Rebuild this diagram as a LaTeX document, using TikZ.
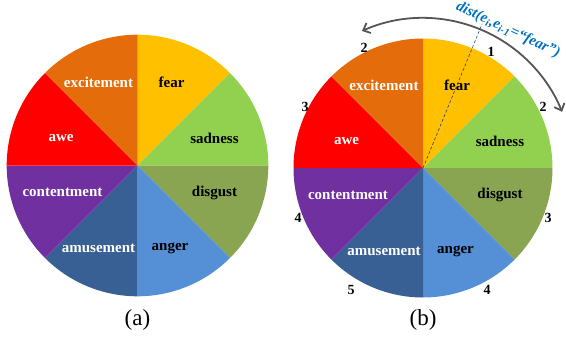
\documentclass[tikz,border=0pt]{standalone}
\usepackage{fontspec}
\setmainfont{Liberation Serif}
\usetikzlibrary{arrows.meta}
\definecolor{cfear}{HTML}{FFC000}
\definecolor{csad}{HTML}{92D050}
\definecolor{cdisg}{HTML}{8AA551}
\definecolor{canger}{HTML}{558FD6}
\definecolor{camuse}{HTML}{396094}
\definecolor{ccontent}{HTML}{7030A0}
\definecolor{cawe}{HTML}{FF0000}
\definecolor{cexcite}{HTML}{E46C0A}
\definecolor{carc}{HTML}{555555}
\definecolor{cdist}{HTML}{0070C0}
\definecolor{cdash}{HTML}{2F3F6F}
\begin{document}
\begin{tikzpicture}[x=1pt,y=1pt,
  lbl/.style={font=\fontsize{15}{18}\selectfont\bfseries, inner sep=0pt, text=black},
  wlbl/.style={lbl, text=white},
  num/.style={font=\fontsize{14}{16}\selectfont\bfseries, inner sep=0pt},
  captxt/.style={font=\fontsize{23}{26}\selectfont, inner sep=0pt},
  distarc/.style={draw=carc, line width=1.8pt, {Straight Barb[length=6pt,width=11pt]}-{Straight Barb[length=6pt,width=11pt]}},
  distline/.style={draw=cdash, line width=0.6pt, dash pattern=on 3pt off 2pt},
  disttxt/.style={font=\fontsize{15}{17}\selectfont\bfseries\itshape, text=cdist, inner sep=0pt}]
\useasboundingbox (0,0) rectangle (566,341);
\foreach \cx/\cy/\r/\n in {137.5/175.5/130.8/a, 423/173/129.5/b} {
  \foreach \a/\col in {45/cfear, 0/csad, -45/cdisg, -90/canger, -135/camuse, -180/ccontent, 135/cawe, 90/cexcite}
    \fill[\col] (\cx,\cy) -- ++(\a:\r) arc[start angle=\a, delta angle=45, radius=\r] -- cycle;
  \node[wlbl] (\n-excite)  at (\cx-39,\cy+83)   {excitement};
  \node[lbl]  (\n-fear)    at (\cx+34,\cy+83)   {fear};
  \node[wlbl] (\n-awe)     at (\cx-76.5,\cy+27) {awe};
  \node[lbl]  (\n-sad)     at (\cx+77,\cy+27)   {sadness};
  \node[wlbl] (\n-content) at (\cx-75,\cy-27)   {contentment};
  \node[lbl]  (\n-disg)    at (\cx+77,\cy-27)   {disgust};
  \node[wlbl] (\n-amuse)   at (\cx-39,\cy-83)   {amusement};
  \node[lbl]  (\n-anger)   at (\cx+32.5,\cy-83) {anger};
  \node[captxt] (\n-cap) at (\cx,21) {(\n)};
}
\coordinate (bc) at (423,173);
% distance numbers
\node[num] (n1) at (491,289) {1};
\node[num] (n2a) at (364,293) {2};
\node[num] (n2b) at (543,234) {2};
\node[num] (n3a) at (305,234) {3};
\node[num] (n3b) at (548,123) {3};
\node[num] (n4a) at (298,123) {4};
\node[num] (n4b) at (487,51) {4};
\node[num] (n5) at (351,51) {5};
% arc and dashed line
\draw[distarc] ([shift={(114:150)}]bc) arc[start angle=114, end angle=22, radius=150];
\draw[distline] (bc) -- ++(67.7:156) coordinate (dtop);
\node[disttxt, rotate=-25] (dist) at (508,311) {dist(e\textsubscript{i},e\textsubscript{i-1}=“fear”)};
\end{tikzpicture}
\end{document}
